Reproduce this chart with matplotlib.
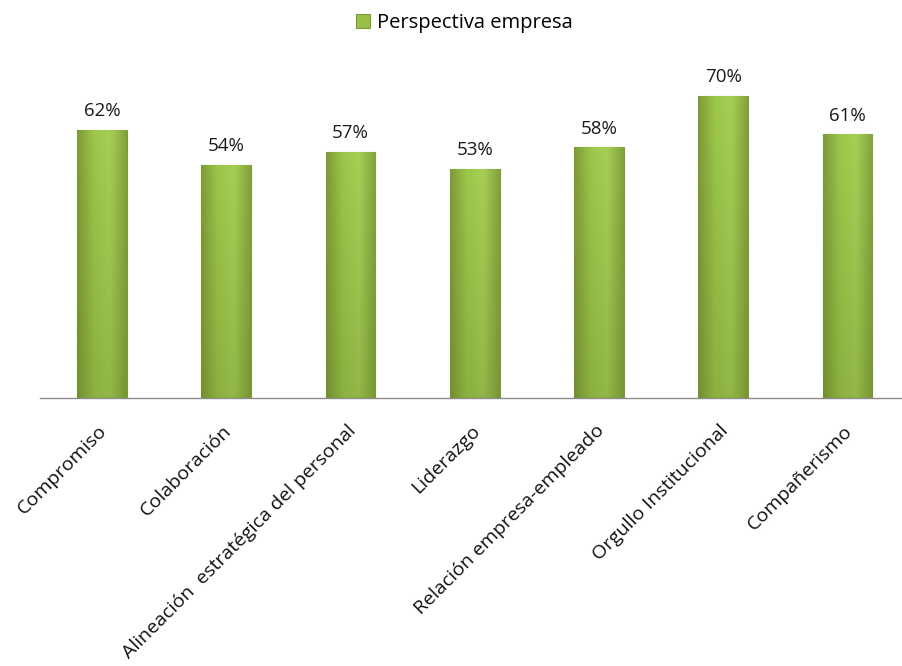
import numpy as np
import matplotlib
matplotlib.use("Agg")
import matplotlib.pyplot as plt
import matplotlib.transforms as mtransforms
from matplotlib.colors import LinearSegmentedColormap

categorias = ["Compromiso", "Colaboración", "Alineación  estratégica del personal",
              "Liderazgo", "Relación empresa-empleado", "Orgullo Institucional",
              "Compañerismo"]
valores = [62, 54, 57, 53, 58, 70, 61]
serie = "Perspectiva empresa"

plt.rcParams['font.family'] = ['Open Sans', 'DejaVu Sans']

fig = plt.figure(figsize=(9.02, 6.66), dpi=100)
ax = fig.add_axes([40 / 902, 268 / 666, 862 / 902, 345.6 / 666])

x = np.arange(len(categorias))
bars = ax.bar(x, valores, width=0.40, color="#98c046", edgecolor="#7b9a35",
              linewidth=0.8, label=serie, zorder=2)

# degradado dentro de cada barra
cmap = LinearSegmentedColormap.from_list("verde", ["#7f9a38", "#9cc64a", "#a6cf56", "#84a23c"])
horiz = np.linspace(0, 1, 100)[None, :]
vert = np.linspace(0.0, 1.0, 60)[:, None]
for b in bars:
    x0, w, h = b.get_x(), b.get_width(), b.get_height()
    img = np.repeat(horiz, 60, axis=0)
    im = ax.imshow(img, extent=[x0, x0 + w, 0, h], cmap=cmap, aspect="auto",
                   zorder=2.5, interpolation="bicubic")
    im.set_clip_path(b)
    # sombreado vertical: parte baja algo mas oscura
    shade = np.zeros((60, 1, 4))
    shade[..., 0] = 0.3
    shade[..., 1] = 0.4
    shade[..., 2] = 0.1
    shade[..., 3] = vert[:, 0:1] * 0.22
    sh = ax.imshow(shade, extent=[x0, x0 + w, 0, h], aspect="auto", zorder=2.6,
                   interpolation="bilinear")
    sh.set_clip_path(b)
    ax.annotate(f"{int(h)}%", (x0 + w / 2, h), xytext=(0, 7), textcoords="offset points",
                ha="center", va="bottom", fontsize=13.5, color="#1a1a1a")

ax.set_xlim(-0.5, 6.44)
ax.set_ylim(0, 80)
for s in ["top", "right", "left"]:
    ax.spines[s].set_visible(False)
ax.spines["bottom"].set_color("#8c8c8c")
ax.spines["bottom"].set_linewidth(1.0)
ax.set_yticks([])
ax.set_xticks(x)
ax.set_xticklabels(categorias, rotation=45, ha="right", rotation_mode="anchor",
                   fontsize=14, color="#111111")
ax.tick_params(axis="x", length=0, pad=17)
desplaza = mtransforms.ScaledTranslation(-4 / 100, 0, fig.dpi_scale_trans)
for lab in ax.get_xticklabels():
    lab.set_transform(lab.get_transform() + desplaza)

fig.legend(handles=[bars[0]], labels=[serie], loc="upper center",
           bbox_to_anchor=(0.515, 1.008), frameon=False, fontsize=14.5,
           handlelength=0.7, handleheight=0.7, handletextpad=0.35)

fig.savefig("out.png", dpi=100)
